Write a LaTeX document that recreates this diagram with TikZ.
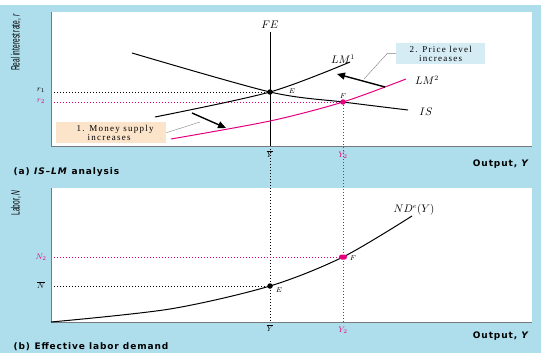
\documentclass[tikz,border=0pt]{standalone}
\usepackage{fontspec}
\setmainfont{Liberation Serif}
\setsansfont{DejaVu Sans}
\newfontfamily\narrowfont{Liberation Sans}
\newfontfamily\notefont[LetterSpace=14]{Liberation Serif}
\newfontfamily\capfont[LetterSpace=10]{DejaVu Sans}
\usetikzlibrary{arrows.meta, positioning}
\definecolor{bgblue}{RGB}{174,222,236}
\definecolor{shiftpink}{RGB}{230,0,126}
\definecolor{peach}{RGB}{252,228,202}
\definecolor{paleblue}{RGB}{214,236,245}
\definecolor{axisgray}{RGB}{118,122,126}
\tikzset{
  curve/.style={line width=1pt, black}, % the black IS, LM, FE, ND curves
  shifted/.style={line width=1pt, shiftpink}, % curve after the shift
  guide/.style={line width=0.7pt, dash pattern=on 0.8pt off 2.2pt}, % dotted
  % guide lines to the axes
  axis/.style={line width=1pt, axisgray},
  shiftarrow/.style={line width=1.4pt, -{Triangle[length=8pt, width=7pt]}},
  leader/.style={line width=0.4pt, gray},
  notebox/.style={inner sep=1pt, minimum height=21pt, align=left,
    font=\notefont\fontsize{9}{8.5}\selectfont},
  caption/.style={font=\capfont\bfseries\fontsize{9}{9}\selectfont},
  curvelabel/.style={font=\fontsize{10.5}{11}\selectfont},
  tick/.style={font=\fontsize{8}{9}\selectfont},
  dot/.style={circle, fill, inner sep=0pt, minimum size=5.5pt},
  sidelabel/.style={rotate=90, anchor=east,
    font=\narrowfont\fontsize{12}{12}\selectfont},
}
\begin{document}
\begin{tikzpicture}[x=1pt, y=-1pt, node distance=1pt]
  % canvas and the two panels
  \useasboundingbox (0,0) rectangle (541,353);
  \fill[white] (0,0) rectangle (541,5);
  \fill[bgblue] (0,5) rectangle (541,353);
  \fill[white] (51,12) rectangle (532,146);
  \fill[white] (51,188) rectangle (532,322);

  \coordinate (oa) at (51,146); % origin of panel (a)
  \coordinate (ob) at (51,322); % origin of panel (b)
  \coordinate (E) at (270,92);
  \coordinate (F) at (343,102);
  \coordinate (Eb) at (270,286);
  \coordinate (Fb) at (343,257);

  % dotted guides
  \draw[guide] (E -| oa) -- (E);
  \draw[guide, shiftpink] (F -| oa) -- (F);
  \draw[guide] (oa -| E) -- (ob -| E);
  \draw[guide, shiftpink] (F) -- (ob -| F);
  \draw[guide] (Eb -| ob) -- (Eb);
  \draw[guide, shiftpink] (Fb -| ob) -- (Fb);

  % axes
  \draw[axis] (51,12) -- (oa) -- (532,146);
  \draw[axis] (51,188) -- (ob) -- (532,322);

  % panel (a): IS-LM
  \coordinate (fetop) at (270,32);
  \draw[curve] (fetop) -- (oa -| E);
  \node[curvelabel, above=0pt of fetop] (fe) {$FE$};
  \draw[curve] plot[smooth] coordinates {(132,53) (E) (F) (408,110)};
  \draw[curve] plot[smooth] coordinates {(155,117) (E) (350,62)};
  \draw[shifted] plot[smooth] coordinates {(171,139) (270,121) (F) (406,79)};
  \node[curvelabel] (lm1) at (343,59) {$LM^1$};
  \node[curvelabel] (lm2) at (427,80) {$LM^2$};
  \node[curvelabel] (is) at (426,112) {$IS$};
  \node[dot] (ea) at (E) {};
  \node[dot, shiftpink] (fa) at (F) {};
  \node[tick, font=\fontsize{7}{8}\selectfont] at (292,91) {$E$};
  \node[tick, font=\fontsize{7}{8}\selectfont] at (343,96) {$F$};
  \node[tick] at (41,90) {$r_1$};
  \node[tick, shiftpink] at (41,101) {$r_2$};
  \node[tick] at (270,154) {$\overline{Y}$};
  \node[tick, shiftpink] at (343,155) {$Y_2$};

  % what shifts the LM curve
  \node[notebox, fill=peach, minimum width=110pt, anchor=north west] (money)
    at (56,122) {\hspace{8pt}1. Money supply\\\hspace{19pt}increases};
  \coordinate (mtip) at (200,122);
  \draw[leader] (money.east) -- (mtip);
  \coordinate (m1) at (192,113);
  \coordinate (m2) at (226,128);
  \draw[shiftarrow] (m1) -- (m2);
  \node[notebox, fill=paleblue, minimum width=89pt, align=center,
    anchor=north west] (price) at (396,43) {2. Price level\\increases};
  \draw[leader] (price.west) -- ++(-9,0) -- (364,79);
  \coordinate (p1) at (385,87);
  \coordinate (p2) at (337,74);
  \draw[shiftarrow] (p1) -- (p2);

  \node[caption, anchor=east] (outa) at (533,164) {Output, \textit{Y}};
  \node[caption, anchor=west] (capa) at (10,172)
    {(a)\enspace\textit{IS–LM} analysis};
  \node[sidelabel] (ylaba) at (16,11)
    {\scalebox{0.55}[1]{Real interest rate, \textit{r}}};

  % panel (b): labor demand
  \draw[curve] plot[smooth] coordinates {(ob) (170,309) (Eb) (Fb) (412,216)};
  \node[dot] (eb) at (Eb) {};
  \node[dot, shiftpink, rectangle, rounded corners=2.5pt, minimum width=8pt,
    minimum height=5pt] (fb) at (Fb) {};
  \node[curvelabel] (nd) at (414,210) {$ND^e(Y)$};
  \node[tick, font=\fontsize{7}{8}\selectfont] at (279,290) {$E$};
  \node[tick, font=\fontsize{7}{8}\selectfont] at (353,258) {$F$};
  \node[tick, shiftpink] at (41,257) {$N_2$};
  \node[tick] at (41,285) {$\overline{N}$};
  \node[tick] at (270,328) {$\overline{Y}$};
  \node[tick, shiftpink] at (343,330) {$Y_2$};
  \node[caption, anchor=east] (outb) at (533,336) {Output, \textit{Y}};
  \node[caption, anchor=west] (capb) at (10,347)
    {(b)\enspace Effective labor demand};
  \node[sidelabel] (ylabb) at (16,187)
    {\scalebox{0.55}[1]{Labor, \textit{N}}};
\end{tikzpicture}
\end{document}
